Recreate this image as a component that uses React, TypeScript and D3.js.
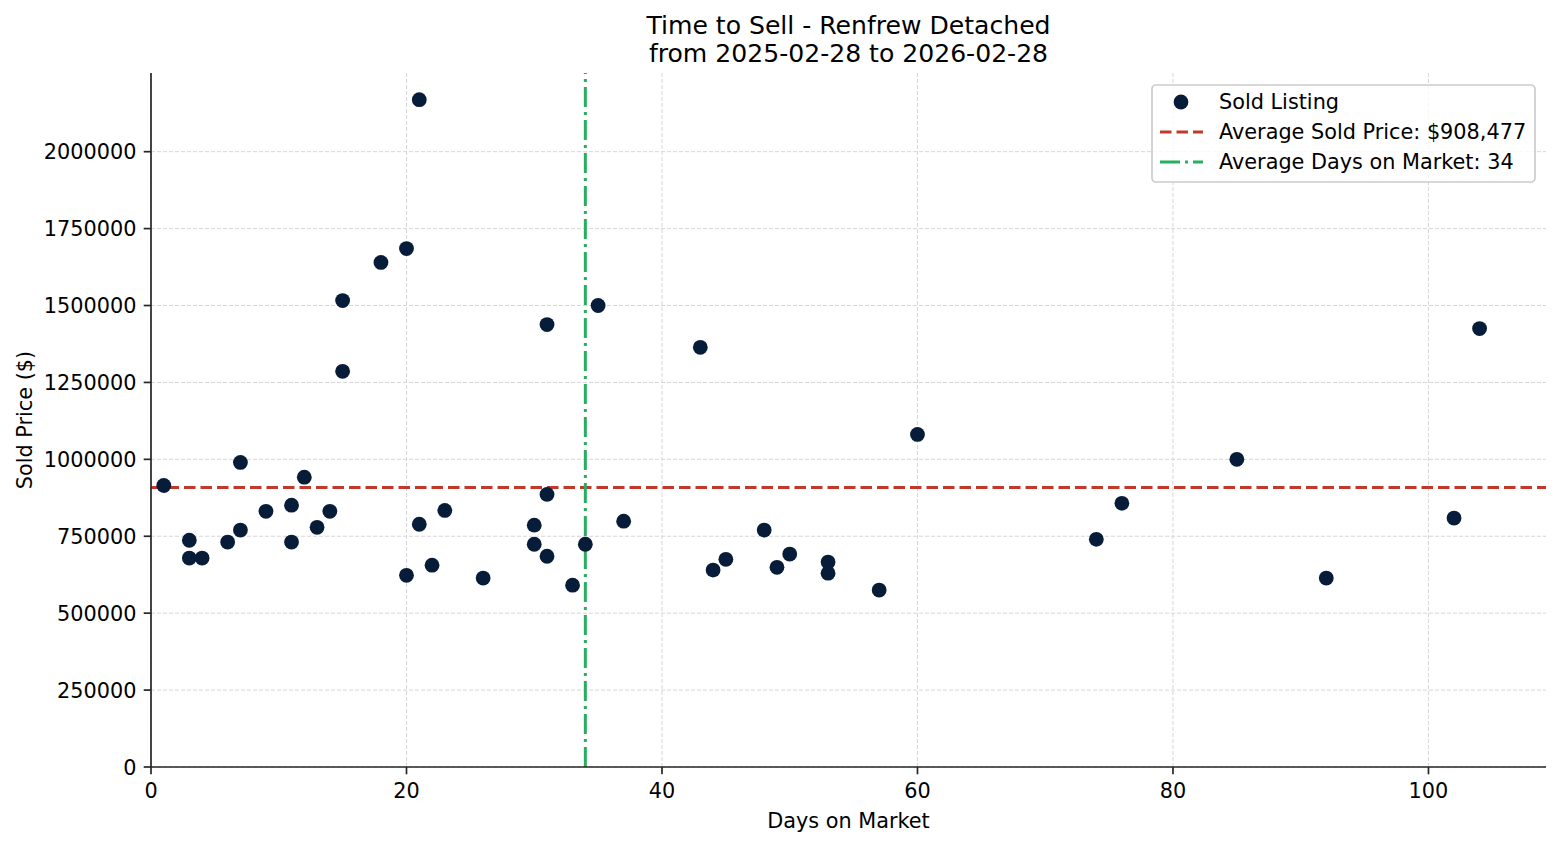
import React from "react";
import * as d3 from "d3";

const titleLines = ["Time to Sell - Renfrew Detached", "from 2025-02-28 to 2026-02-28"];
const xLabel = "Days on Market";
const yLabel = "Sold Price ($)";

const days = [
  1, 3, 3, 4, 6, 7, 7, 9, 11, 11,
  12, 13, 14, 15, 15, 18, 20, 20, 21, 21,
  22, 23, 26, 30, 30, 31, 31, 31, 33, 34,
  35, 37, 43, 44, 45, 48, 49, 50, 53, 53,
  57, 60, 74, 76, 85, 92, 102, 104,
];
const prices = [
  915000, 737000, 679000, 679000, 731000, 990000, 770000, 831000, 851000, 731000,
  942000, 779000, 831000, 1516000, 1286000, 1640000, 1685000, 623000, 2169000, 789000,
  656000, 834000, 614000, 786000, 724000, 886000, 685000, 1438000, 591000, 724000,
  1500000, 799000, 1364000, 640000, 675000, 770000, 649000, 692000, 666000, 630000,
  575000, 1081000, 740000, 857000, 1000000, 614000, 809000, 1425000,
];

const avgPrice = 908477;
const avgDays = 34;
const xTicks = [0, 20, 40, 60, 80, 100];
const yTicks = [0, 250000, 500000, 750000, 1000000, 1250000, 1500000, 1750000, 2000000];
const legendLabels = ["Sold Listing", "Average Sold Price: $908,477", "Average Days on Market: 34"];

const W = 1560;
const H = 845;
const L = 151, R = 1546, T = 73, B = 767;
const FONT = "'DejaVu Sans', sans-serif";
const NAVY = "#061c38";
const RED = "#c0392b";
const GREEN = "#27ae60";
const GRID = "#d6d6d6";
const AX = "#262626";
const FS = 20.8;

export default function App() {
  const xMax = d3.max(days)! * 1.05;
  const yMax = d3.max(prices)! * 1.04;
  const x = d3.scaleLinear().domain([0, xMax]).range([L, R]);
  const y = d3.scaleLinear().domain([0, yMax]).range([B, T]);

  const lx = 1152, ly = 85, lw = 383, lh = 97;

  return (
    <svg
      width={W}
      height={H}
      style={{ position: "absolute", left: 0, top: 0, background: "#fff" }}
      fontFamily={FONT}
    >
      <rect x={0} y={0} width={W} height={H} fill="#fff" />
      {xTicks.map((t) => (
        <line key={"gx" + t} x1={x(t)} x2={x(t)} y1={T} y2={B} stroke={GRID} strokeWidth={1} strokeDasharray="4,2" />
      ))}
      {yTicks.map((t) => (
        <line key={"gy" + t} x1={L} x2={R} y1={y(t)} y2={y(t)} stroke={GRID} strokeWidth={1} strokeDasharray="4,2" />
      ))}
      <line x1={L} x2={R} y1={y(avgPrice)} y2={y(avgPrice)} stroke={RED} strokeWidth={3} strokeDasharray="11.5,5" />
      <line x1={x(avgDays)} x2={x(avgDays)} y1={B} y2={T} stroke={GREEN} strokeWidth={3} strokeDasharray="20,5,3,5" />
      {days.map((d, i) => (
        <circle key={"p" + i} cx={x(d)} cy={y(prices[i])} r={7.4} fill={NAVY} />
      ))}
      <line x1={L} x2={L} y1={T} y2={B} stroke={AX} strokeWidth={1.7} />
      <line x1={L} x2={R} y1={B} y2={B} stroke={AX} strokeWidth={1.7} />
      {xTicks.map((t) => (
        <g key={"xt" + t}>
          <line x1={x(t)} x2={x(t)} y1={B} y2={B + 7.3} stroke={AX} strokeWidth={1.7} />
          <text x={x(t)} y={798} textAnchor="middle" fontSize={FS} fill="#000">
            {t}
          </text>
        </g>
      ))}
      {yTicks.map((t) => (
        <g key={"yt" + t}>
          <line x1={L - 7.3} x2={L} y1={y(t)} y2={y(t)} stroke={AX} strokeWidth={1.7} />
          <text x={L - 14.6} y={y(t) + 7.6} textAnchor="end" fontSize={FS} fill="#000">
            {t}
          </text>
        </g>
      ))}
      <text x={(L + R) / 2} y={828} textAnchor="middle" fontSize={FS} fill="#000">
        {xLabel}
      </text>
      <text transform={`translate(32,${(T + B) / 2}) rotate(-90)`} textAnchor="middle" fontSize={FS} fill="#000">
        {yLabel}
      </text>
      {titleLines.map((s, i) => (
        <text key={"t" + i} x={(L + R) / 2} y={34 + i * 28} textAnchor="middle" fontSize={25.1} fill="#000">
          {s}
        </text>
      ))}
      <rect x={lx} y={ly} width={lw} height={lh} rx={4} fill="#fff" fillOpacity={0.8} stroke="#cccccc" strokeWidth={1.7} />
      <circle cx={1181} cy={102} r={7.4} fill={NAVY} />
      <line x1={1160} x2={1203} y1={132} y2={132} stroke={RED} strokeWidth={3} strokeDasharray="11.5,5" />
      <line x1={1160} x2={1203} y1={162} y2={162} stroke={GREEN} strokeWidth={3} strokeDasharray="20,5,3,5" />
      {legendLabels.map((s, i) => (
        <text key={"l" + i} x={1219} y={109 + i * 30} fontSize={FS} fill="#000">
          {s}
        </text>
      ))}
    </svg>
  );
}
